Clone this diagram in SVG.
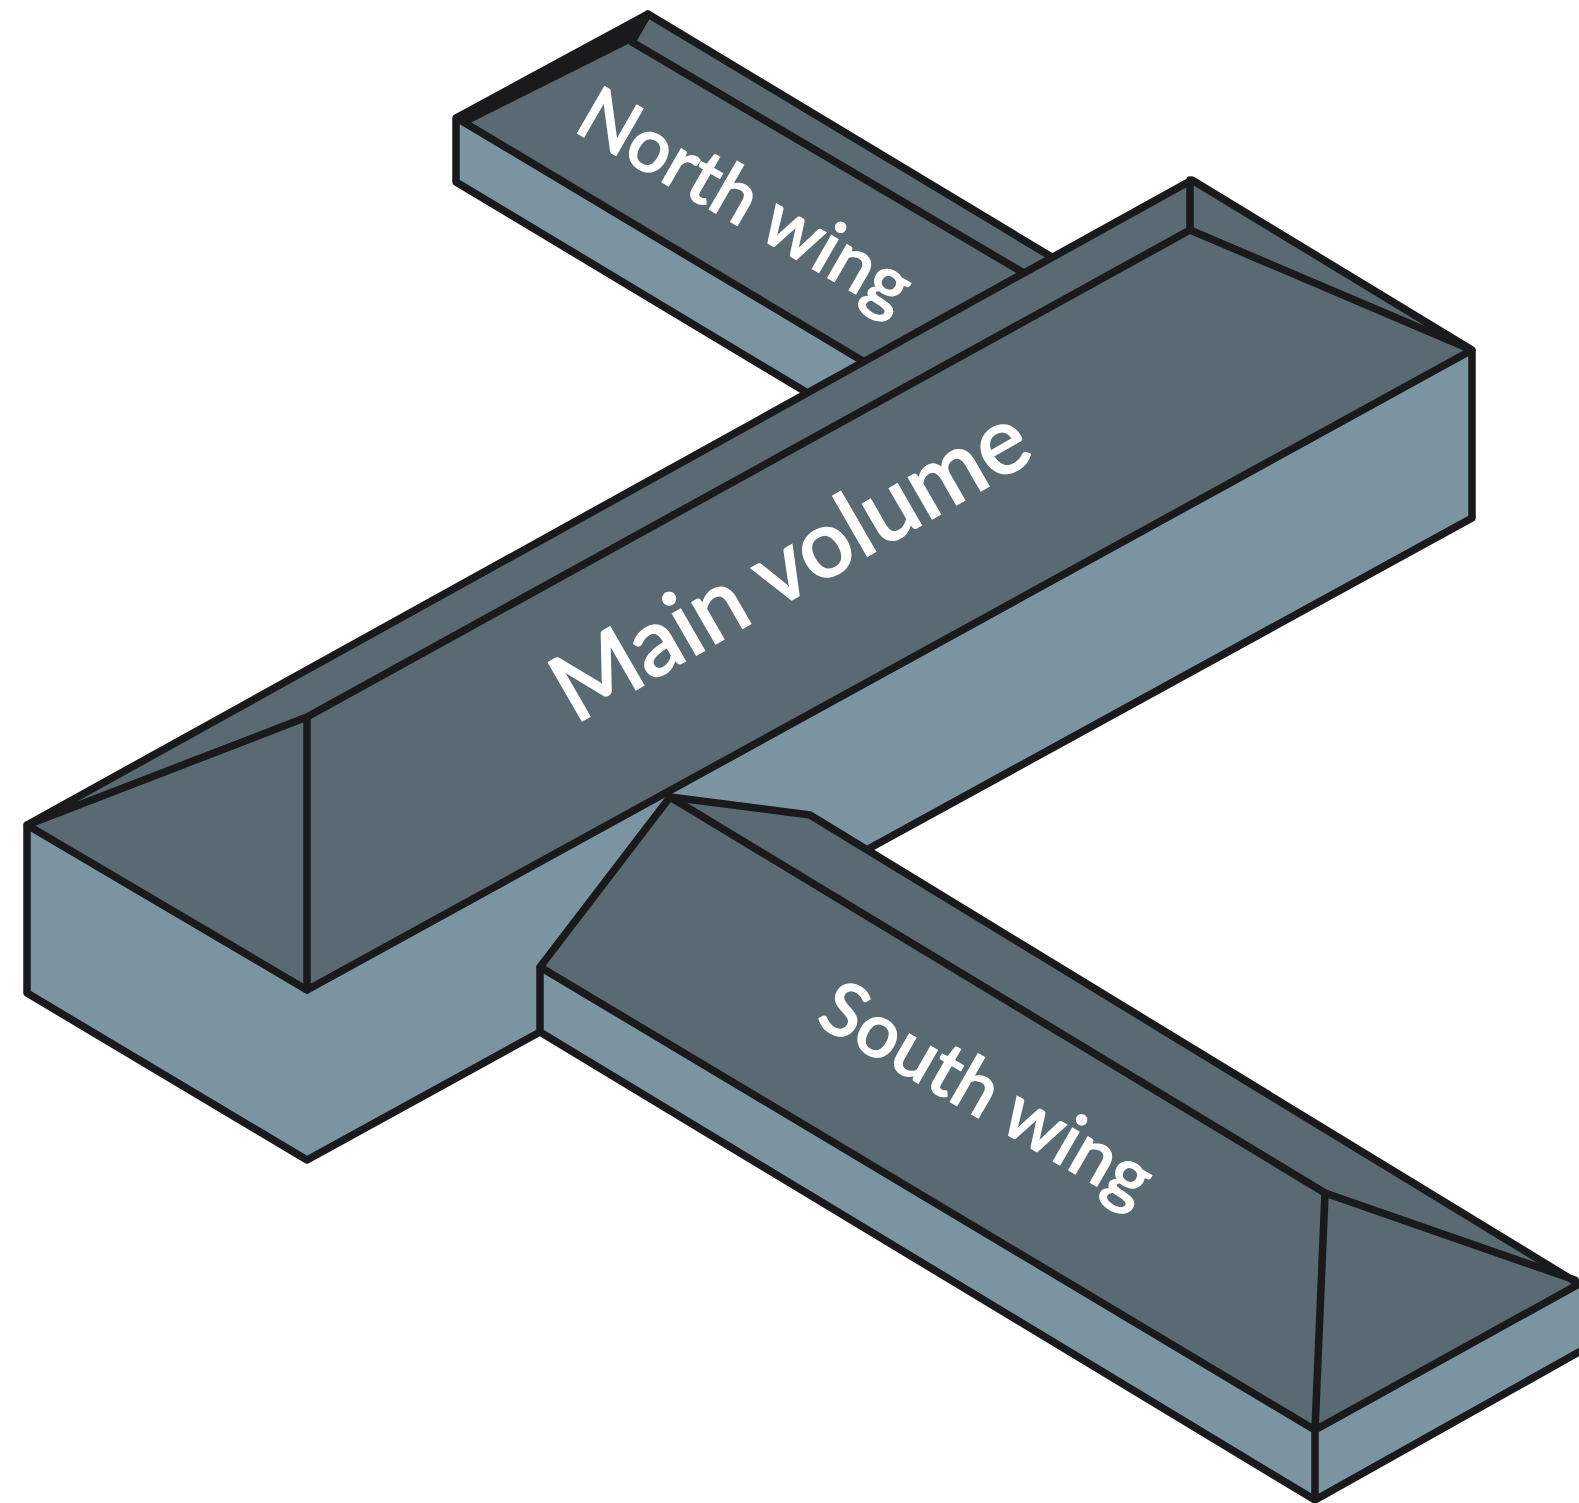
<svg xmlns="http://www.w3.org/2000/svg" width="1579" height="1503" viewBox="0 0 1579 1503">
<style>
.roof{fill:#5a6a72}
.wall{fill:#7b94a2}
.ink{fill:#1a1a1c}
.edge{fill:none;stroke:#1a1a1c;stroke-width:7.5;stroke-linejoin:round;stroke-linecap:round}
.label{font-family:"Lato","Noto Sans",sans-serif;font-weight:500;font-size:75px;fill:#fff;stroke:#fff;stroke-width:1.4}
.large{font-size:94px}
</style>
<rect width="1579" height="1503" fill="#fff"/>
<g id="north-wing">
<polygon class="wall" points="456,118 456,182 808,395 870,360"/>
<polygon class="roof" points="456,118 648,14 1050,256 861,360"/>
<polygon class="ink" points="456,118 648,13 632,42 470,123"/>
<path class="edge" d="M806,392 456,182V118L648,14 1050,256M460,120 861,360M632,42 648,14M632,42 1022,272"/>
<text class="label" transform="translate(572 130) rotate(30)">North wing</text>
</g>
<g id="main-volume">
<polygon class="wall" points="27,825 307,990 307,1160 27,993"/>
<polygon class="wall" points="307,990 1472,350 1472,518 307,1160"/>
<polygon class="roof" points="27,825 1192,180 1472,350 307,990"/>
<path class="edge" d="M307,990 27,825V993L307,1160 540,1032M870,848 1472,518V350L1192,180 27,825 307,717V990L1472,350 1190,230 307,717M1190,230V180"/>
<text class="label large" transform="translate(575 725) rotate(-30)">Main volume</text>
</g>
<g id="south-wing">
<polygon class="wall" points="540,967 540,1032 1315,1500 1315,1430"/>
<polygon class="wall" points="1315,1430 1579,1284 1579,1352 1315,1500"/>
<polygon class="roof" points="540,967 670,797 810,815 1579,1284 1315,1430"/>
<path class="edge" d="M1579,1352 1315,1500 540,1032V967L670,797 810,815 1579,1284M540,967 1315,1430 1579,1284M670,797 1325,1193 1575,1280M1325,1193 1315,1430V1500"/>
<text class="label" transform="translate(814 1023) rotate(30)">South wing</text>
</g>
</svg>
